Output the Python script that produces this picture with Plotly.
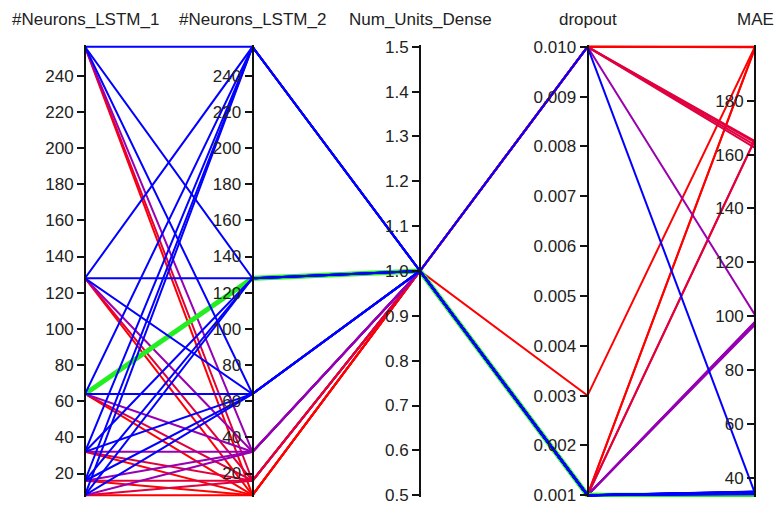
import plotly.graph_objects as go
from plotly.colors import sample_colorscale

# ---- data ----
dim_labels = ["#Neurons_LSTM_1", "#Neurons_LSTM_2", "Num_Units_Dense", "dropout", "MAE"]

neurons_lstm_1 = [256, 128, 64, 32, 16, 8,   # LSTM_2 = 256
                  256, 128, 64, 32, 16, 8,   # LSTM_2 = 128
                  256, 128, 64, 32, 16, 8,   # LSTM_2 = 64
                  256, 128, 64, 32, 16, 8,   # LSTM_2 = 32
                  256, 128, 64, 32, 16, 8,   # LSTM_2 = 16
                  256, 128, 64, 32, 16, 8]   # LSTM_2 = 8
neurons_lstm_2 = [256] * 6 + [128] * 6 + [64] * 6 + [32] * 6 + [16] * 6 + [8] * 6
num_units_dense = [1] * 36
dropout = [0.01, 0.001, 0.001, 0.001, 0.001, 0.001,
           0.001, 0.001, 0.001, 0.001, 0.001, 0.001,
           0.001, 0.001, 0.001, 0.001, 0.001, 0.001,
           0.001, 0.01, 0.001, 0.001, 0.001, 0.001,
           0.01, 0.001, 0.01, 0.01, 0.001, 0.01,
           0.01, 0.01, 0.001, 0.003, 0.01, 0.001]
mae = [34.3, 34.6, 34.9, 34.4, 34.7, 35.0,
       34.2, 34.5, 33.6, 34.8, 34.1, 34.6,
       34.9, 34.3, 34.5, 34.7, 34.0, 34.4,
       97.5, 100.5, 97.8, 96.8, 98.0, 97.2,
       165.0, 165.7, 163.5, 164.5, 165.5, 162.5,
       200.0, 199.8, 199.5, 200.0, 199.9, 199.6]
best_row = 8  # highlighted configuration (drawn in green)

dim_ranges = [[8, 256], [8, 256], [0.5, 1.5], [0.001, 0.010], [min(mae), max(mae)]]

lstm_ticks = [20, 40, 60, 80, 100, 120, 140, 160, 180, 200, 220, 240]
dense_ticks = [0.5, 0.6, 0.7, 0.8, 0.9, 1.0, 1.1, 1.2, 1.3, 1.4, 1.5]
dense_ticktext = ["0.5", "0.6", "0.7", "0.8", "0.9", "1.0", "1.1", "1.2", "1.3", "1.4", "1.5"]
dropout_ticks = [0.001, 0.002, 0.003, 0.004, 0.005, 0.006, 0.007, 0.008, 0.009, 0.010]
dropout_ticktext = ["0.001", "0.002", "0.003", "0.004", "0.005",
                    "0.006", "0.007", "0.008", "0.009", "0.010"]
mae_ticks = [40, 60, 80, 100, 120, 140, 160, 180]
tick_sets = [(lstm_ticks, [str(t) for t in lstm_ticks]),
             (lstm_ticks, [str(t) for t in lstm_ticks]),
             (dense_ticks, dense_ticktext),
             (dropout_ticks, dropout_ticktext),
             (mae_ticks, [str(t) for t in mae_ticks])]

# colour by MAE: blue (low) -> purple -> red (high)
colorscale = [[0.0, "#0000ff"], [0.38, "#9600b4"], [0.79, "#e2003c"], [1.0, "#ff0000"]]
best_color = "#22ee22"

columns = [neurons_lstm_1, neurons_lstm_2, num_units_dense, dropout, mae]
n_rows = len(mae)
n_dims = len(columns)
pad = 0.004  # tiny headroom so lines on the range ends are not clipped

fig = go.Figure()

# draw order: high MAE first, highlighted run, then the low-MAE runs on top
order = sorted([i for i in range(n_rows) if i != best_row], key=lambda i: -mae[i])
first_low = next(k for k, i in enumerate(order) if mae[i] < 50)
order.insert(first_low, best_row)

mae_lo, mae_hi = min(mae), max(mae)
for i in order:
    frac = [(columns[d][i] - dim_ranges[d][0]) / (dim_ranges[d][1] - dim_ranges[d][0])
            for d in range(n_dims)]
    if i == best_row:
        color, width = best_color, 5
    else:
        color = sample_colorscale(colorscale, [(mae[i] - mae_lo) / (mae_hi - mae_lo)])[0]
        width = 2
    fig.add_trace(go.Scatter(
        x=list(range(n_dims)), y=frac, mode="lines",
        line=dict(color=color, width=width), hoverinfo="skip", showlegend=False,
    ))

# one value axis per dimension (each needs a trace to be drawn)
font_family = "Liberation Sans, Arial, sans-serif"
tick_font = dict(family=font_family, size=17, color="#222")

layout_axes = {}
for d in range(n_dims):
    lo, hi = dim_ranges[d]
    span = hi - lo
    tv, tt = tick_sets[d]
    name = "y%d" % (d + 2)
    fig.add_trace(go.Scatter(x=[None], y=[None], xaxis="x", yaxis=name,
                             mode="lines", hoverinfo="skip", showlegend=False))
    layout_axes["yaxis%d" % (d + 2)] = dict(
        overlaying="y", anchor="free", position=d / (n_dims - 1), side="left",
        range=[lo - pad * span, hi + pad * span], autorange=False,
        tickvals=tv, ticktext=tt, ticks="outside", ticklen=7, tickwidth=2,
        tickcolor="#111", showline=True, linecolor="#111", linewidth=2,
        showgrid=False, zeroline=False, tickfont=tick_font, layer="above traces",
        fixedrange=True, visible=True, automargin=False,
    )

fig.update_layout(
    width=781, height=509,
    margin=dict(l=85, r=26, t=45, b=12, autoexpand=False),
    paper_bgcolor="white", plot_bgcolor="white",
    xaxis=dict(range=[0, n_dims - 1], visible=False, fixedrange=True, automargin=False),
    yaxis=dict(range=[-pad, 1 + pad], visible=False, fixedrange=True, automargin=False),
    **layout_axes,
)

for d, lab in enumerate(dim_labels):
    fig.add_annotation(
        x=d / (n_dims - 1), y=1, xref="paper", yref="paper",
        xanchor="center", yanchor="bottom", yshift=14,
        text=lab, showarrow=False, font=dict(family=font_family, size=17, color="#222"),
    )

fig.write_html("out.html")
